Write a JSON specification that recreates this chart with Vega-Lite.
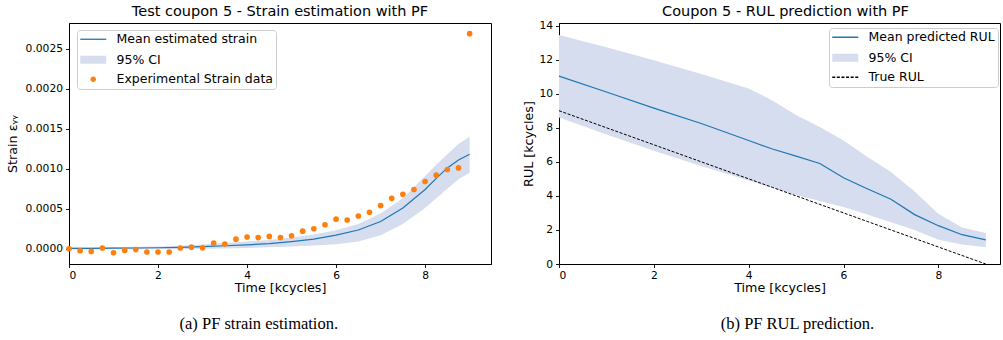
{
  "$schema": "https://vega.github.io/schema/vega-lite/v6.json",
  "padding": {"left": 6, "top": 3, "right": 0, "bottom": 0},
  "background": "white",
  "config": {
    "font": "DejaVu Sans",
    "view": {"stroke": "black", "strokeWidth": 1},
    "axis": {
      "grid": false, "domainColor": "black", "domainWidth": 1, "tickColor": "black", "tickSize": 3.5, "tickWidth": 0.9,
      "labelColor": "black", "labelFont": "DejaVu Sans", "labelFontSize": 10.7, "labelPadding": 3, "labelOverlap": false,
      "titleColor": "black", "titleFont": "DejaVu Sans", "titleFontSize": 12.7, "titleFontWeight": "normal"
    },
    "title": {"font": "DejaVu Sans", "fontSize": 14.5, "fontWeight": "normal", "color": "black", "offset": 4},
    "legend": {
      "labelFont": "DejaVu Sans", "labelFontSize": 12.5, "labelColor": "black", "labelOffset": 24,
      "symbolSize": 100, "symbolStrokeWidth": 1.3, "symbolOpacity": 1,
      "padding": 3, "rowPadding": 6.5, "fillColor": "white", "strokeColor": "#cccccc", "cornerRadius": 3, "orient": "none"
    }
  },
  "datasets": {
    "strain": [
      {"t": 0.0, "v": 0.0}, {"t": 0.25, "v": -0.000025}, {"t": 0.5, "v": -0.000033}, {"t": 0.75, "v": 0.00001},
      {"t": 1.0, "v": -0.00005}, {"t": 1.25, "v": -0.00002}, {"t": 1.5, "v": -0.00001}, {"t": 1.75, "v": -0.00004},
      {"t": 2.0, "v": -0.00004}, {"t": 2.25, "v": -0.00004}, {"t": 2.5, "v": 0.00001}, {"t": 2.75, "v": 0.00002},
      {"t": 3.0, "v": 0.000012}, {"t": 3.25, "v": 0.00007}, {"t": 3.5, "v": 0.00006}, {"t": 3.75, "v": 0.00012},
      {"t": 4.0, "v": 0.000147}, {"t": 4.25, "v": 0.00014}, {"t": 4.5, "v": 0.000155}, {"t": 4.75, "v": 0.00014},
      {"t": 5.0, "v": 0.000163}, {"t": 5.25, "v": 0.00022}, {"t": 5.5, "v": 0.00025}, {"t": 5.75, "v": 0.0003},
      {"t": 6.0, "v": 0.00037}, {"t": 6.25, "v": 0.00036}, {"t": 6.5, "v": 0.00041}, {"t": 6.75, "v": 0.000456},
      {"t": 7.0, "v": 0.00054}, {"t": 7.25, "v": 0.00063}, {"t": 7.5, "v": 0.00068}, {"t": 7.75, "v": 0.00074},
      {"t": 8.0, "v": 0.00084}, {"t": 8.25, "v": 0.00092}, {"t": 8.5, "v": 0.00099}, {"t": 8.75, "v": 0.00101},
      {"t": 9.0, "v": 0.002687}
    ],
    "estimate": [
      {"t": 0.0, "mean": 0.000005, "lo": -0.00001, "hi": 0.00002},
      {"t": 0.5, "mean": 0.000006, "lo": -0.000008, "hi": 0.00002},
      {"t": 1.0, "mean": 0.000008, "lo": -0.000006, "hi": 0.000022},
      {"t": 1.5, "mean": 0.00001, "lo": -0.000005, "hi": 0.000026},
      {"t": 2.0, "mean": 0.000013, "lo": -0.000004, "hi": 0.00003},
      {"t": 2.5, "mean": 0.000018, "lo": -0.000002, "hi": 0.000038},
      {"t": 3.0, "mean": 0.000028, "lo": 0.0, "hi": 0.000055},
      {"t": 3.5, "mean": 0.000038, "lo": 0.000004, "hi": 0.000072},
      {"t": 4.0, "mean": 0.00005, "lo": 0.00001, "hi": 0.00009},
      {"t": 4.5, "mean": 0.000065, "lo": 0.00002, "hi": 0.00011},
      {"t": 5.0, "mean": 0.00009, "lo": 0.00003, "hi": 0.00014},
      {"t": 5.5, "mean": 0.00012, "lo": 0.000042, "hi": 0.00018},
      {"t": 6.0, "mean": 0.00017, "lo": 0.000056, "hi": 0.00023},
      {"t": 6.5, "mean": 0.000235, "lo": 0.00009, "hi": 0.00031},
      {"t": 7.0, "mean": 0.00034, "lo": 0.00017, "hi": 0.00044},
      {"t": 7.5, "mean": 0.00051, "lo": 0.00031, "hi": 0.00063},
      {"t": 8.0, "mean": 0.00074, "lo": 0.00051, "hi": 0.00091},
      {"t": 8.25, "mean": 0.00088, "lo": 0.00063, "hi": 0.00105},
      {"t": 8.5, "mean": 0.00101, "lo": 0.00075, "hi": 0.00118},
      {"t": 8.75, "mean": 0.00111, "lo": 0.00087, "hi": 0.00131},
      {"t": 9.0, "mean": 0.00118, "lo": 0.00095, "hi": 0.0014}
    ],
    "rul": [
      {"t": 0.0, "mean": 11.03, "lo": 8.6, "hi": 13.45, "true": 9.0},
      {"t": 1.0, "mean": 10.1, "lo": 7.6, "hi": 12.72, "true": 8.0},
      {"t": 2.0, "mean": 9.15, "lo": 6.65, "hi": 11.96, "true": 7.0},
      {"t": 3.0, "mean": 8.25, "lo": 5.75, "hi": 11.15, "true": 6.0},
      {"t": 4.0, "mean": 7.25, "lo": 4.9, "hi": 10.3, "true": 5.0},
      {"t": 4.5, "mean": 6.75, "lo": 4.48, "hi": 9.6, "true": 4.5},
      {"t": 5.0, "mean": 6.33, "lo": 4.05, "hi": 8.75, "true": 4.0},
      {"t": 5.5, "mean": 5.9, "lo": 3.7, "hi": 8.05, "true": 3.5},
      {"t": 6.0, "mean": 5.06, "lo": 3.35, "hi": 7.25, "true": 3.0},
      {"t": 6.5, "mean": 4.42, "lo": 2.9, "hi": 6.3, "true": 2.5},
      {"t": 7.0, "mean": 3.8, "lo": 2.45, "hi": 5.4, "true": 2.0},
      {"t": 7.5, "mean": 2.9, "lo": 2.0, "hi": 4.25, "true": 1.5},
      {"t": 8.0, "mean": 2.25, "lo": 1.42, "hi": 2.95, "true": 1.0},
      {"t": 8.5, "mean": 1.72, "lo": 1.15, "hi": 2.15, "true": 0.5},
      {"t": 9.0, "mean": 1.42, "lo": 0.98, "hi": 1.82, "true": 0.0}
    ],
    "legendA": [{"label": "Mean estimated strain"}, {"label": "95% CI"}, {"label": "Experimental Strain data"}],
    "legendB": [{"label": "Mean predicted RUL"}, {"label": "95% CI"}, {"label": "True RUL"}]
  },
  "spacing": 30,
  "resolve": {"scale": {"fill": "independent", "stroke": "independent", "shape": "independent", "strokeDash": "independent"}, "legend": {"fill": "independent", "stroke": "independent", "shape": "independent", "strokeDash": "independent"}},
  "hconcat": [
    {
      "title": {"text": "(a) PF strain estimation.", "orient": "bottom", "anchor": "middle", "font": "Liberation Serif", "fontSize": 16.5, "offset": 21, "dx": 10},
      "vconcat": [
        {
          "title": {"text": "Test coupon 5 - Strain estimation with PF", "frame": "group"},
          "width": 422, "height": 241,
          "layer": [
            {
              "data": {"name": "estimate"},
              "mark": {"type": "area", "opacity": 1, "color": "#d6ddee"},
              "encoding": {
                "x": {"field": "t", "type": "quantitative", "scale": {"domain": [0, 9.48], "nice": false, "zero": false},
                      "axis": {"values": [0, 2, 4, 6, 8], "tickCount": 20, "format": "d", "title": "Time [kcycles]", "titlePadding": 1.5, "labelOverlap": false}},
                "y": {"field": "lo", "type": "quantitative", "scale": {"domain": [-0.00019, 0.00282], "nice": false, "zero": false},
                      "axis": {"values": [0, 0.0005, 0.001, 0.0015, 0.002, 0.0025], "tickCount": 20, "format": ".4f", "title": "Strain εᵧᵧ", "titlePadding": 5.5, "labelOverlap": false}},
                "y2": {"field": "hi"}
              }
            },
            {
              "data": {"name": "estimate"},
              "mark": {"type": "line", "strokeWidth": 1.2, "color": "#1f77b4"},
              "encoding": {
                "x": {"field": "t", "type": "quantitative"},
                "y": {"field": "mean", "type": "quantitative"}
              }
            },
            {
              "data": {"name": "strain"},
              "mark": {"type": "point", "filled": true, "size": 32, "opacity": 1, "color": "#ff7f0e", "strokeWidth": 0},
              "encoding": {
                "x": {"field": "t", "type": "quantitative"},
                "y": {"field": "v", "type": "quantitative"}
              }
            },
            {
              "data": {"name": "legendA"},
              "mark": {"type": "point", "opacity": 0},
              "encoding": {
                "fill": {"field": "label", "type": "nominal",
                  "scale": {"domain": ["Mean estimated strain", "95% CI", "Experimental Strain data"], "range": ["transparent", "#d6ddee", "#ff7f0e"]},
                  "legend": {"title": null, "legendX": 8, "legendY": 7}},
                "stroke": {"field": "label", "type": "nominal",
                  "scale": {"domain": ["Mean estimated strain", "95% CI", "Experimental Strain data"], "range": ["#1f77b4", "transparent", "transparent"]},
                  "legend": {"title": null, "legendX": 8, "legendY": 7}},
                "shape": {"field": "label", "type": "nominal",
                  "scale": {"domain": ["Mean estimated strain", "95% CI", "Experimental Strain data"],
                            "range": ["M-1.2,0H4", "M-1.2,-0.8H4V0.8H-1.2Z", "M1.4,-0.55A0.55,0.55 0 1,1 1.4,0.55A0.55,0.55 0 1,1 1.4,-0.55Z"]},
                  "legend": {"title": null, "legendX": 8, "legendY": 7}}
              }
            },
            {
              "mark": {"type": "rect", "fill": "transparent", "stroke": "black", "strokeWidth": 1},
              "encoding": {
                "x": {"datum": 0, "type": "quantitative"},
                "x2": {"datum": 9.48},
                "y": {"datum": -0.00019, "type": "quantitative"},
                "y2": {"datum": 0.00282}
              }
            }
          ]
        }
      ]
    },
    {
      "title": {"text": "(b) PF RUL prediction.", "orient": "bottom", "anchor": "middle", "font": "Liberation Serif", "fontSize": 16.5, "offset": 21, "dx": 36},
      "vconcat": [
        {
          "title": {"text": "Coupon 5 - RUL prediction with PF", "frame": "group", "dx": 6, "offset": 0},
          "width": 441, "height": 241,
          "layer": [
            {
              "data": {"name": "rul"},
              "mark": {"type": "area", "opacity": 1, "color": "#d6ddee"},
              "encoding": {
                "x": {"field": "t", "type": "quantitative", "scale": {"domain": [0, 9.3], "nice": false, "zero": false},
                      "axis": {"values": [0, 2, 4, 6, 8], "tickCount": 20, "format": "d", "title": "Time [kcycles]", "titlePadding": 1.5, "labelOverlap": false}},
                "y": {"field": "lo", "type": "quantitative", "scale": {"domain": [0, 14.15], "nice": false, "zero": false},
                      "axis": {"values": [0, 2, 4, 6, 8, 10, 12, 14], "tickCount": 20, "format": "d", "title": "RUL [kcycles]", "titlePadding": 3, "labelOverlap": false}},
                "y2": {"field": "hi"}
              }
            },
            {
              "data": {"name": "rul"},
              "mark": {"type": "line", "strokeWidth": 1.2, "color": "#1f77b4"},
              "encoding": {
                "x": {"field": "t", "type": "quantitative"},
                "y": {"field": "mean", "type": "quantitative"}
              }
            },
            {
              "data": {"name": "rul"},
              "mark": {"type": "line", "strokeWidth": 1, "strokeDash": [3, 1.6], "color": "black"},
              "encoding": {
                "x": {"field": "t", "type": "quantitative"},
                "y": {"field": "true", "type": "quantitative"}
              }
            },
            {
              "data": {"name": "legendB"},
              "mark": {"type": "point", "opacity": 0},
              "encoding": {
                "fill": {"field": "label", "type": "nominal",
                  "scale": {"domain": ["Mean predicted RUL", "95% CI", "True RUL"], "range": ["transparent", "#d6ddee", "transparent"]},
                  "legend": {"title": null, "legendX": 270, "legendY": 5}},
                "stroke": {"field": "label", "type": "nominal",
                  "scale": {"domain": ["Mean predicted RUL", "95% CI", "True RUL"], "range": ["#1f77b4", "transparent", "black"]},
                  "legend": {"title": null, "legendX": 270, "legendY": 5}},
                "shape": {"field": "label", "type": "nominal",
                  "scale": {"domain": ["Mean predicted RUL", "95% CI", "True RUL"], "range": ["M-1.2,0H4", "M-1.2,-0.8H4V0.8H-1.2Z", "M-1.2,0H4"]},
                  "legend": {"title": null, "legendX": 270, "legendY": 5}},
                "strokeDash": {"field": "label", "type": "nominal",
                  "scale": {"domain": ["Mean predicted RUL", "95% CI", "True RUL"], "range": [[1, 0], [1, 0], [3, 1.6]]},
                  "legend": {"title": null, "legendX": 270, "legendY": 5}}
              }
            },
            {
              "mark": {"type": "rect", "fill": "transparent", "stroke": "black", "strokeWidth": 1},
              "encoding": {
                "x": {"datum": 0, "type": "quantitative"},
                "x2": {"datum": 9.3},
                "y": {"datum": 0, "type": "quantitative"},
                "y2": {"datum": 14.15}
              }
            }
          ]
        }
      ]
    }
  ]
}
